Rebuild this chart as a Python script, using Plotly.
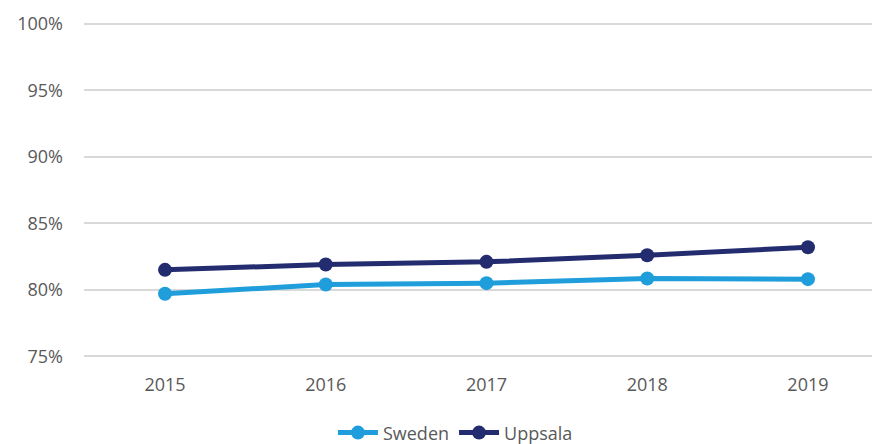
import plotly.graph_objects as go

years = ["2015", "2016", "2017", "2018", "2019"]
sweden = [79.7, 80.4, 80.5, 80.85, 80.8]
uppsala = [81.5, 81.9, 82.1, 82.6, 83.2]
y_ticks = [75, 80, 85, 90, 95, 100]
y_labels = ["75%", "80%", "85%", "90%", "95%", "100%"]

fig = go.Figure()
fig.add_trace(go.Scatter(x=years, y=sweden, name="Sweden", mode="lines+markers",
                         line=dict(color="#1F9EDB", width=5),
                         marker=dict(size=14, color="#1F9EDB")))
fig.add_trace(go.Scatter(x=years, y=uppsala, name="Uppsala", mode="lines+markers",
                         line=dict(color="#232C6E", width=5),
                         marker=dict(size=14, color="#232C6E")))

fig.update_layout(
    width=880, height=444,
    margin=dict(l=76, r=0, t=13, b=93),
    paper_bgcolor="white", plot_bgcolor="white",
    font=dict(family="Open Sans, Liberation Sans, sans-serif", size=18, color="#595959"),
    xaxis=dict(type="category", range=[-0.504, 4.498], showgrid=False, zeroline=False,
               showline=False, ticks="", automargin=False, ticklabelstandoff=13,
               tickfont=dict(size=18, color="#595959")),
    yaxis=dict(range=[74.8, 100.2], tickvals=y_ticks, ticktext=y_labels,
               showgrid=True, gridcolor="#D9D9D9", gridwidth=1.5, zeroline=False,
               showline=False, ticks="", ticklabelstandoff=20, automargin=False,
               tickfont=dict(size=18, color="#595959")),
    legend=dict(orientation="h", x=0.462, xanchor="center", yref="container",
                y=0.043, yanchor="middle",
                font=dict(size=18, color="#595959"), itemwidth=40),
    showlegend=True,
)

fig.write_html("out.html")
